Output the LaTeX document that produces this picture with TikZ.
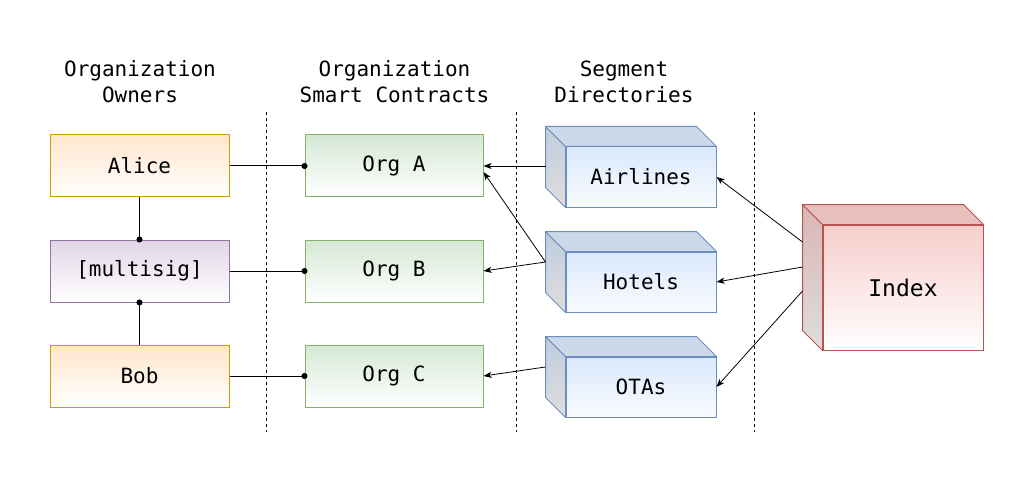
\documentclass[tikz,border=0pt]{standalone}
\usepackage{fontspec}
\setmainfont{DejaVu Sans Mono}
\usetikzlibrary{arrows.meta}

\definecolor{ownerfill}{HTML}{FFE6CC}
\definecolor{ownerline}{HTML}{D79B00}
\definecolor{msigfill}{HTML}{E1D5E7}
\definecolor{msigline}{HTML}{9673A6}
\definecolor{orgfill}{HTML}{D5E8D4}
\definecolor{orgline}{HTML}{82B366}
\definecolor{segfill}{HTML}{DAE8FC}
\definecolor{segline}{HTML}{6C8EBF}
\definecolor{idxfill}{HTML}{F8CECC}
\definecolor{idxline}{HTML}{B85450}

\tikzset{
    label text/.style={font=\fontsize{21}{26}\selectfont},
    head/.style={label text, align=center},
    box/.style={label text, line width=1pt, minimum width=179pt, minimum height=62pt, inner sep=0pt},
    owner/.style={box, draw=ownerline, top color=ownerfill, bottom color=white},
    msig/.style={box, draw=msigline, top color=msigfill, bottom color=white},
    org/.style={box, minimum width=178pt, draw=orgline, top color=orgfill, bottom color=white},
    segment/.style={box, minimum width=150pt, minimum height=60pt, draw=segline, top color=segfill, bottom color=segfill!15},
    link/.style={line width=1pt, shorten >=-3pt, -{Circle[length=6pt]}},
    ref/.style={line width=0.8pt, -{Stealth[length=8pt,width=6pt,inset=2pt]}},
    divider/.style={line width=1pt, dash pattern=on 3pt off 3pt},
}

\begin{document}
\begin{tikzpicture}[x=1pt, y=-1pt]
    \useasboundingbox (0,0) rectangle (1034,484);

    % Column headings
    \node[head] (hown) at (140,81.5) {Organization\\Owners};
    \node[head] (hcon) at (394.5,81.5) {Organization\\Smart Contracts};
    \node[head] (hdir) at (624,81.5) {Segment\\Directories};

    % Dividers
    \draw[divider] (266,112) -- (266,432);
    \draw[divider] (516,112) -- (516,432);
    \draw[divider] (754,112) -- (754,432);

    % Owners
    \node[owner] (alice) at (139.5,166) {Alice};
    \node[msig] (msig) at (139.5,271) {[multisig]};
    \node[owner] (bob) at (139.5,376) {Bob};

    % Smart contracts
    \node[org] (orgA) at (394,166) {Org A};
    \node[org] (orgB) at (394,271) {Org B};
    \node[org] (orgC) at (394,376) {Org C};

    % Segment directories (front faces)
    \node[segment] (air) at (641,177) {Airlines};
    \node[segment] (hot) at (641,282) {Hotels};
    \node[segment] (ota) at (641,387) {OTAs};

    \foreach \c in {air,hot,ota} {
        \draw[segline, line width=1pt, line join=round, top color=segfill!88!black, bottom color=white!87!black]
            (\c.north west) -- ++(-20,-20) -- ([shift={(-20,-20)}]\c.south west) -- (\c.south west) -- cycle;
        \draw[segline, line width=1pt, line join=round, fill=segfill!93!black]
            (\c.north west) -- ++(-20,-20) -- ([shift={(-20,-20)}]\c.north east) -- (\c.north east) -- cycle;
    }

    % Index
    \node[box, minimum width=160pt, minimum height=125pt, draw=idxline, top color=idxfill, bottom color=white,
          font=\fontsize{23}{28}\selectfont] (idx) at (903,287.5) {Index};
    \draw[idxline, line width=1pt, line join=round, top color=idxfill!88!black, bottom color=white!87!black]
        (idx.north west) -- ++(-20,-20) -- ([shift={(-20,-20)}]idx.south west) -- (idx.south west) -- cycle;
    \draw[idxline, line width=1pt, line join=round, fill=idxfill!93!black]
        (idx.north west) -- ++(-20,-20) -- ([shift={(-20,-20)}]idx.north east) -- (idx.north east) -- cycle;

    % Ownership links
    \draw[link] (alice.south) -- (msig.north);
    \draw[link] (bob.north) -- (msig.south);
    \draw[link] (alice.east) -- (orgA.west);
    \draw[link] (msig.east) -- (orgB.west);
    \draw[link] (bob.east) -- (orgC.west);

    % Directory references
    \draw[ref] ([xshift=-20pt,yshift=11pt]air.west) -- (orgA.east);
    \draw[ref] ([xshift=-20pt,yshift=20pt]hot.west) -- ([yshift=-6pt]orgA.east);
    \draw[ref] ([xshift=-20pt,yshift=20pt]hot.west) -- (orgB.east);
    \draw[ref] ([xshift=-20pt,yshift=20pt]ota.west) -- (orgC.east);

    % Index references
    \draw[ref] ([xshift=-20pt,yshift=45.5pt]idx.west) -- (air.east);
    \draw[ref] ([xshift=-20pt,yshift=20.5pt]idx.west) -- (hot.east);
    \draw[ref] ([xshift=-20pt,yshift=-3.5pt]idx.west) -- (ota.east);
\end{tikzpicture}
\end{document}
